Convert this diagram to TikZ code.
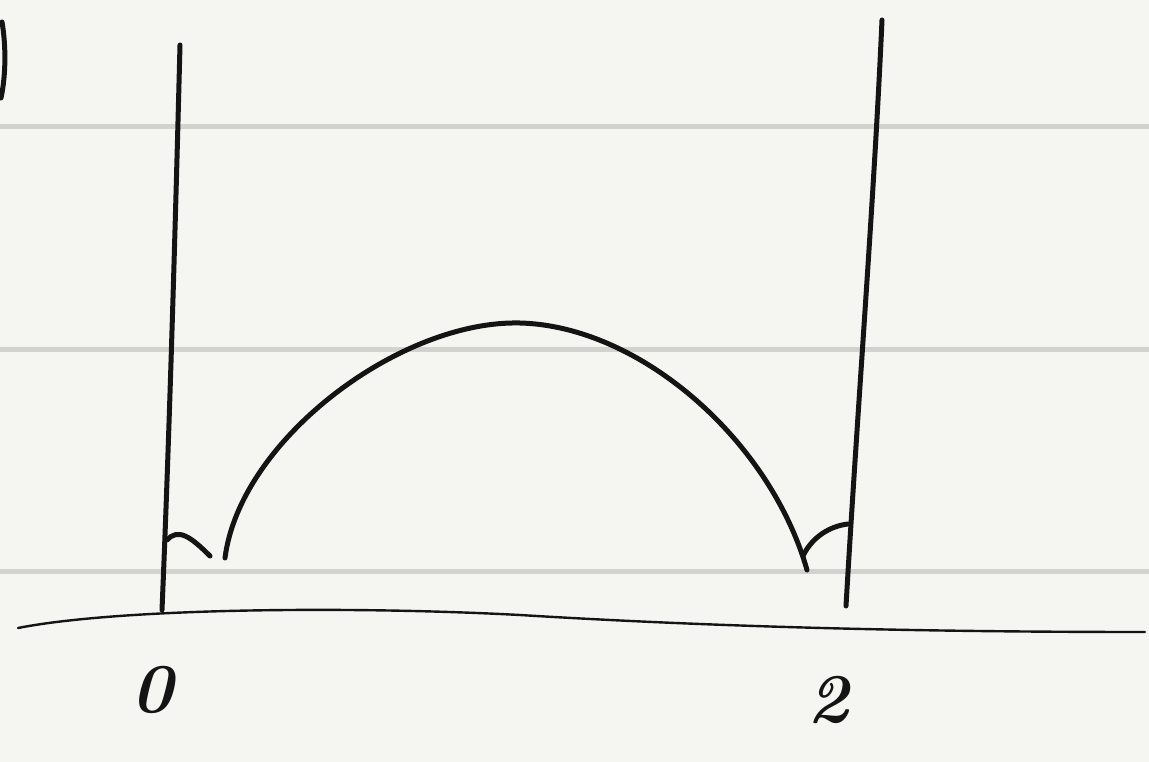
\documentclass[tikz,border=0pt]{standalone}
\usepackage{tikz}
\usetikzlibrary{positioning, calc}
\definecolor{paper}{HTML}{F5F6F1}
\definecolor{ruling}{HTML}{D2D3CE}
\definecolor{ink}{HTML}{141414}

\begin{document}
\begin{tikzpicture}[
    x=1pt, y=-1pt,
    ruleline/.style={draw=ruling, line width=5pt},
    pen/.style={draw=ink, line width=5pt, line cap=round, line join=round},
    thinpen/.style={draw=ink, line width=2.4pt, line cap=round},
    digit/.style={text=ink, font=\fontsize{70}{70}\selectfont\bfseries\itshape, inner sep=0pt}
]
    % paper and ruled lines
    \fill[paper] (0,0) rectangle (1149,762);
    \useasboundingbox (0,0) rectangle (1149,762);
    \foreach \y in {127,349,571}
        \path[ruleline] (0,\y) -- (1149,\y);

    % end points on the axis
    \coordinate (zero) at (162,610);
    \coordinate (two) at (846,606);

    % left margin stroke
    \path[pen] (2,22) .. controls (6,45) and (6,75) .. (1,98);

    % the two vertical walls
    \path[pen] (zero) .. controls (170,420) and (176,200) .. (180,45);
    \path[pen] (two) .. controls (858,400) and (874,200) .. (882,20);

    % ground line
    \path[thinpen] (18,628) .. controls (120,608) and (350,606) .. (520,615)
        .. controls (700,626) and (900,632) .. (1145,632);

    % the arc between the walls
    \path[pen] (225,558) .. controls (240,440) and (400,320) .. (520,323)
        .. controls (640,326) and (770,440) .. (807,570);

    % angle marks
    \path[pen] (167,540) .. controls (178,528) and (190,536) .. (210,556);
    \path[pen] (803,556) .. controls (812,537) and (830,526) .. (848,524);

    % labels
    \node[digit] (lblzero) at (152,690) {0};
    \node[digit] (lbltwo) at (828,700) {2};
\end{tikzpicture}
\end{document}
